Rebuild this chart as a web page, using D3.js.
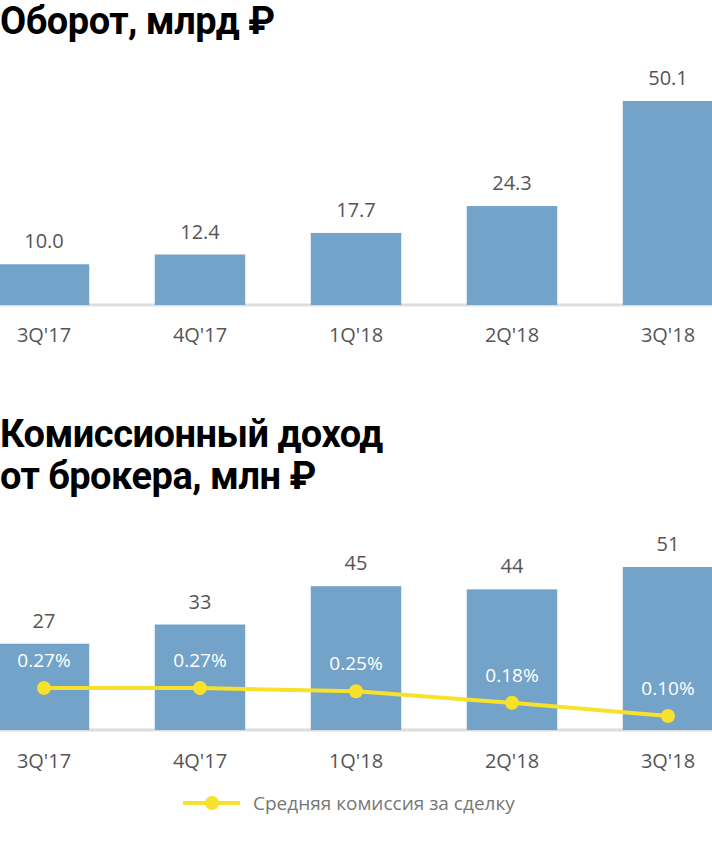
<!DOCTYPE html>
<html><head><meta charset="utf-8">
<script src="https://cdn.jsdelivr.net/npm/d3@7"></script>
<style>body{margin:0;background:#fff}</style>
</head><body>
<script>
var quarters = ["3Q'17", "4Q'17", "1Q'18", "2Q'18", "3Q'18"];
var turnover = [10.0, 12.4, 17.7, 24.3, 50.1];
var income = [27, 33, 45, 44, 51];
var commission = [0.27, 0.27, 0.25, 0.18, 0.10];

var W = 712, H = 844, barColor = '#74a3c9', yellow = '#f7e12b', grey = '#555';
var svg = d3.select('body').append('svg').attr('width', W).attr('height', H)
  .style('font-family', 'Open Sans, sans-serif');

var x = d3.scaleBand().domain(quarters).range([-34, 746]).paddingInner(0.42).paddingOuter(0.21);

function title(lines, y0) {
  lines.forEach(function (t, i) {
    svg.append('text').attr('x', 0).attr('y', y0 + i * 42).text(t)
      .attr('font-family', 'Roboto, sans-serif').attr('font-weight', 700)
      .attr('font-size', 38).attr('letter-spacing', -0.5).attr('fill', '#000');
  });
}

function bars(data, y, base, labelY, fmt) {
  svg.append('line').attr('x1', 0).attr('x2', W).attr('y1', base).attr('y2', base)
    .attr('stroke', '#ddd').attr('stroke-width', 3);
  svg.selectAll(null).data(data).enter().append('rect')
    .attr('x', function (d, i) { return x(quarters[i]); })
    .attr('width', x.bandwidth())
    .attr('y', function (d) { return y(d); })
    .attr('height', function (d) { return base - y(d); })
    .attr('fill', barColor);
  svg.selectAll(null).data(data).enter().append('text')
    .attr('x', function (d, i) { return x(quarters[i]) + x.bandwidth() / 2; })
    .attr('y', function (d) { return y(d) - 16; })
    .attr('text-anchor', 'middle').attr('font-size', 20).attr('fill', grey)
    .text(fmt);
  svg.selectAll(null).data(quarters).enter().append('text')
    .attr('x', function (d) { return x(d) + x.bandwidth() / 2; })
    .attr('y', labelY).attr('text-anchor', 'middle').attr('font-size', 20)
    .attr('fill', grey).text(function (d) { return d; });
}

// chart 1
title(['Оборот, млрд ₽'], 34);
var y1 = d3.scaleLinear().domain([0, 50.1]).range([305, 101]);
bars(turnover, y1, 305, 342, function (d) { return d.toFixed(1); });

// chart 2
title(['Комиссионный доход', 'от брокера, млн ₽'], 447);
var y2 = d3.scaleLinear().domain([0, 51]).range([730, 567]);
bars(income, y2, 730, 768, function (d) { return d; });

var yp = d3.scaleLinear().domain([0.10, 0.27]).range([716, 688]);
var cx = function (d, i) { return x(quarters[i]) + x.bandwidth() / 2; };
svg.append('path').datum(commission)
  .attr('d', d3.line().x(cx).y(function (d) { return yp(d); }))
  .attr('fill', 'none').attr('stroke', yellow).attr('stroke-width', 4);
svg.selectAll(null).data(commission).enter().append('circle')
  .attr('cx', cx).attr('cy', function (d) { return yp(d); }).attr('r', 7).attr('fill', yellow);
svg.selectAll(null).data(commission).enter().append('text')
  .attr('x', cx).attr('y', function (d) { return yp(d) - 21; })
  .attr('text-anchor', 'middle').attr('font-size', 19).attr('fill', '#fff')
  .text(function (d) { return d.toFixed(2) + '%'; });

// legend
svg.append('line').attr('x1', 183).attr('x2', 240).attr('y1', 803).attr('y2', 803)
  .attr('stroke', yellow).attr('stroke-width', 4);
svg.append('circle').attr('cx', 212).attr('cy', 803).attr('r', 7).attr('fill', yellow);
svg.append('text').attr('x', 253).attr('y', 810).attr('font-size', 19).attr('fill', '#777')
  .text('Средняя комиссия за сделку');
</script>
</body></html>
